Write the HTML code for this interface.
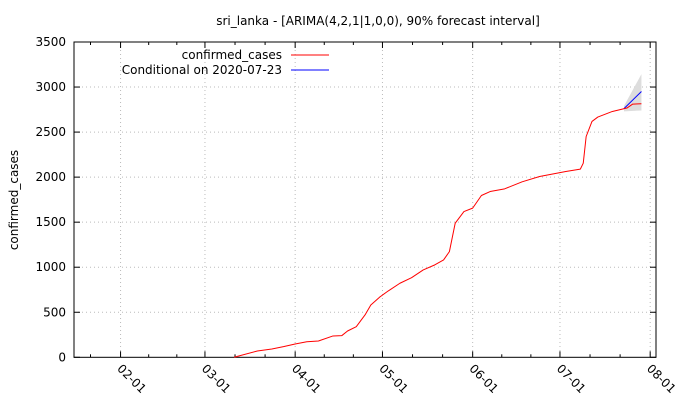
<!DOCTYPE html>
<html><head><meta charset="utf-8"><style>
html,body{margin:0;padding:0;background:#fff;}
svg{display:block;font-family:"DejaVu Sans","Liberation Sans",sans-serif;}
</style></head><body>
<svg id="chart" width="680" height="400" viewBox="0 0 680 400">
<text x="378" y="25" font-size="12" text-anchor="middle">sri_lanka -  [ARIMA(4,2,1|1,0,0), 90% forecast interval]</text>
<text transform="translate(18,200) rotate(-90)" font-size="12" text-anchor="middle">confirmed_cases</text>
<g id="grid"></g><g id="axes"></g><g id="marks"></g>
<g>
<text x="282" y="59" font-size="12" text-anchor="end">confirmed_cases</text>
<line x1="291" y1="55" x2="329" y2="55" stroke="#ff0000"/>
<text x="282" y="74" font-size="12" text-anchor="end">Conditional on 2020-07-23</text>
<line x1="291" y1="70" x2="329" y2="70" stroke="#0000ff"/>
</g>
</svg>
<script>
const caseDates=["03-11","03-19","03-24","03-28","04-01","04-05","04-09","04-14","04-17","04-19","04-22","04-25","04-27","04-30","05-03","05-07","05-11","05-15","05-19","05-22","05-24","05-26","05-29","06-01","06-04","06-07","06-12","06-18","06-24","07-03","07-08","07-09","07-10","07-12","07-14","07-19","07-24","07-26","07-29"];
const caseValues=[1,70,92,118,148,173,181,237,240,292,340,470,581,667,737,822,884,970,1026,1081,1173,1489,1618,1656,1796,1840,1870,1948,2007,2062,2089,2155,2451,2618,2667,2729,2767,2811,2814];
const fcDates=["07-23","07-29"];
const fcMean=[2760,2951];
const fcLower=[2730,2740];
const fcUpper=[2790,3144];
const yTicks=[0,500,1000,1500,2000,2500,3000,3500];
const xTickLabels=["02-01","03-01","04-01","05-01","06-01","07-01","08-01"];

const NS="http://www.w3.org/2000/svg";
const L=74,R=656,T=42,B=357.3;
const d0=Date.UTC(2020,0,16), d1=Date.UTC(2020,7,3.8);
function dayNum(s){const p=s.split("-");return Date.UTC(2020,+p[0]-1,+p[1]);}
function xS(s){return L+(dayNum(s)-d0)/(d1-d0)*(R-L);}
function xT(t){return L+(t-d0)/(d1-d0)*(R-L);}
function yS(v){return B-v/3500*(B-T);}
function mk(tag,attrs,parent){const e=document.createElementNS(NS,tag);for(const k in attrs)e.setAttribute(k,attrs[k]);parent.appendChild(e);return e;}
const grid=document.getElementById("grid"),axes=document.getElementById("axes"),marks=document.getElementById("marks");

yTicks.forEach(v=>{
  const y=yS(v);
  if(v>0&&v<3500){const g=mk("line",{x1:L,x2:R,y1:y,y2:y,stroke:"#bbb","stroke-dasharray":"1,3"},grid);
  
  }
  const t1=mk("line",{x1:L,x2:L+6,y1:y,y2:y,stroke:"#000"},axes);
  
  
  const t2=mk("line",{x1:R-6,x2:R,y1:y,y2:y,stroke:"#000"},axes);
  
  
  const tx=mk("text",{x:66,y:y+4,"font-size":12,"text-anchor":"end"},axes);tx.textContent=v;
  
  
});
xTickLabels.forEach((s,i)=>{
  const x=xS(s);
  const g=mk("line",{x1:x,x2:x,y1:T,y2:B,stroke:"#bbb","stroke-dasharray":"1,3"},grid);
  
  
  [[B-6,B],[T,T+6]].forEach(([a,b])=>{const t=mk("line",{x1:x,x2:x,y1:a,y2:b,stroke:"#000"},axes);
  
  });
  const tx=mk("text",{x:0,y:0,"font-size":12,transform:`translate(${x-4},${B+12}) rotate(45)`},axes);tx.textContent=s;
  
  
  const m=+s.split("-")[0];
  const pv=xT(Date.UTC(2020,m-2,1));
  [1/3,2/3].forEach(f=>{
    const mx=pv+(x-pv)*f;
    if(mx>L&&mx<R){[[B-3,B],[T,T+3]].forEach(([a,b])=>{const t=mk("line",{x1:mx,x2:mx,y1:a,y2:b,stroke:"#000"},axes);
    
    });}
  });
});
const frame=mk("rect",{x:L,y:T,width:R-L,height:B-T,fill:"none",stroke:"#000"},axes);



let band="";
fcDates.forEach((d,i)=>{band+=(i?"L":"M")+xS(d)+","+yS(fcUpper[i]);});
for(let i=fcDates.length-1;i>=0;i--)band+="L"+xS(fcDates[i])+","+yS(fcLower[i]);
const bp=mk("path",{d:band+"Z",fill:"#ddd"},marks);


const fl=mk("polyline",{points:fcDates.map((d,i)=>xS(d)+","+yS(fcMean[i])).join(" "),fill:"none",stroke:"#0000ff"},marks);


const cl=mk("polyline",{points:caseDates.map((d,i)=>xS(d)+","+yS(caseValues[i])).join(" "),fill:"none",stroke:"#ff0000","stroke-linejoin":"round"},marks);


</script>
</body></html>
